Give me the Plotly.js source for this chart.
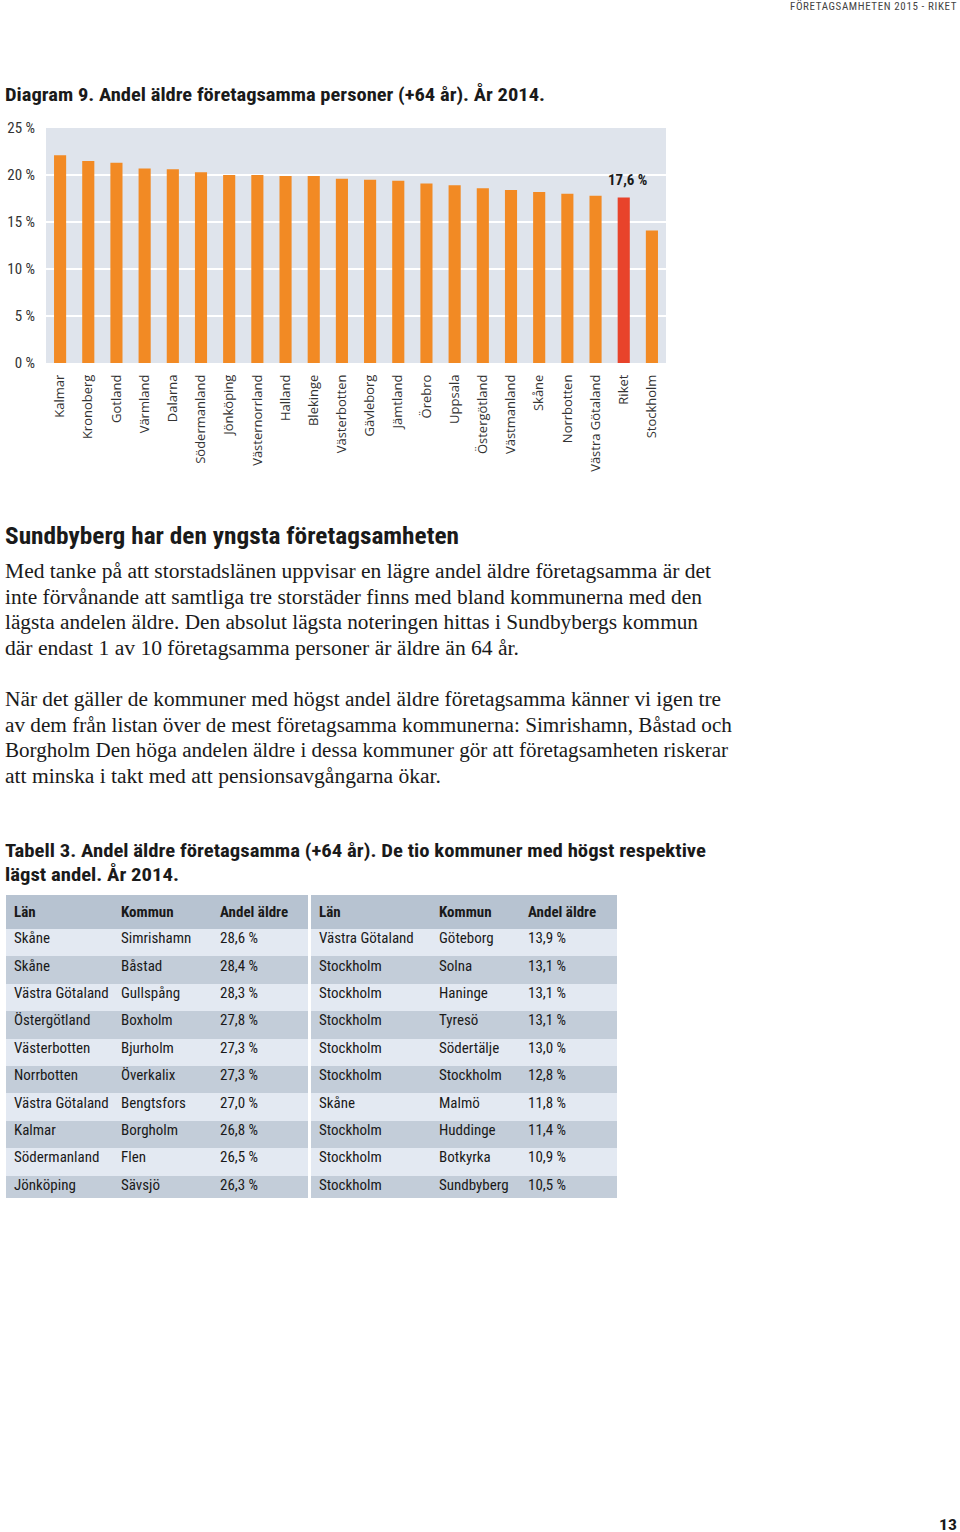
<!DOCTYPE html>
<html>
<head>
<meta charset="utf-8">
<script src="https://cdn.plot.ly/plotly-3.0.1.min.js"></script>
<style>
  html, body { margin:0; padding:0; background:#fff; }
  body { width:960px; height:1532px; position:relative; overflow:hidden; }
  .t { position:absolute; white-space:nowrap; color:#1a1a1a; transform-origin:0 50%; z-index:5; }
  .sans { font-family: 'Liberation Sans Narrow','Roboto Condensed','DejaVu Sans Condensed', Roboto, sans-serif; }
  .serif { font-family: 'Liberation Serif', 'DejaVu Serif', serif; }
  #chart { position:absolute; left:0; top:0; width:960px; height:480px; z-index:1; }
  #table { position:absolute; left:0; top:895px; width:960px; height:303px; z-index:1; }
  #table text.cell-text { translate: 0 -5px; }
</style>
</head>
<body>
<div class="t sans fit" data-w="167" style="left:790px; top:0px; line-height:13px; font-size:10.5px; color:#444; letter-spacing:0.6px;">FÖRETAGSAMHETEN 2015 - RIKET</div>
<div class="t sans fit" data-w="540" style="left:5px; top:83px; line-height:24px; font-size:19px; font-weight:bold;">Diagram 9. Andel äldre företagsamma personer (+64 år). År 2014.</div>
<div id="chart"></div>

<div class="t sans fit" data-w="454" style="left:5px; top:521px; line-height:30px; font-size:23.5px; font-weight:bold;">Sundbyberg har den yngsta företagsamheten</div>

<div class="t serif fit" data-w="706" style="left:5px; top:558px; line-height:26px; font-size:20px;">Med tanke på att storstadslänen uppvisar en lägre andel äldre företagsamma är det</div>
<div class="t serif fit" data-w="697" style="left:5px; top:584px; line-height:26px; font-size:20px;">inte förvånande att samtliga tre storstäder finns med bland kommunerna med den</div>
<div class="t serif fit" data-w="693" style="left:5px; top:609px; line-height:26px; font-size:20px;">lägsta andelen äldre. Den absolut lägsta noteringen hittas i Sundbybergs kommun</div>
<div class="t serif fit" data-w="514" style="left:5px; top:635px; line-height:26px; font-size:20px;">där endast 1 av 10 företagsamma personer är äldre än 64 år.</div>

<div class="t serif fit" data-w="716" style="left:5px; top:686px; line-height:26px; font-size:20px;">När det gäller de kommuner med högst andel äldre företagsamma känner vi igen tre</div>
<div class="t serif fit" data-w="727" style="left:5px; top:712px; line-height:26px; font-size:20px;">av dem från listan över de mest företagsamma kommunerna: Simrishamn, Båstad och</div>
<div class="t serif fit" data-w="723" style="left:5px; top:737px; line-height:26px; font-size:20px;">Borgholm Den höga andelen äldre i dessa kommuner gör att företagsamheten riskerar</div>
<div class="t serif fit" data-w="436" style="left:5px; top:763px; line-height:26px; font-size:20px;">att minska i takt med att pensionsavgångarna ökar.</div>

<div class="t sans fit" data-w="701" style="left:5px; top:839px; line-height:24px; font-size:19px; font-weight:bold;">Tabell 3. Andel äldre företagsamma (+64 år). De tio kommuner med högst respektive</div>
<div class="t sans fit" data-w="174" style="left:5px; top:863px; line-height:24px; font-size:19px; font-weight:bold;">lägst andel. År 2014.</div>

<div id="table"></div>

<div class="t sans fit" data-w="18" style="left:939px; top:1516px; line-height:18px; font-size:15px; font-weight:bold;">13</div>

<script>
// ---------- Chart data ----------
const regions = ['Kalmar','Kronoberg','Gotland','Värmland','Dalarna','Södermanland','Jönköping',
  'Västernorrland','Halland','Blekinge','Västerbotten','Gävleborg','Jämtland','Örebro','Uppsala',
  'Östergötland','Västmanland','Skåne','Norrbotten','Västra Götaland','Riket','Stockholm'];
const shares = [22.1, 21.5, 21.3, 20.7, 20.6, 20.3, 20.0, 20.0, 19.9, 19.9, 19.6, 19.5, 19.4,
  19.1, 18.9, 18.6, 18.4, 18.2, 18.0, 17.8, 17.6, 14.1];
const highlight = 'Riket';
const highlightLabel = '17,6 %';
const yTickVals = [0, 5, 10, 15, 20, 25];
const yTickText = ['0 %', '5 %', '10 %', '15 %', '20 %', '25 %'];

// ---------- Table data ----------
const tableHeader = ['Län', 'Kommun', 'Andel äldre'];
const highLan = ['Skåne','Skåne','Västra Götaland','Östergötland','Västerbotten','Norrbotten','Västra Götaland','Kalmar','Södermanland','Jönköping'];
const highKommun = ['Simrishamn','Båstad','Gullspång','Boxholm','Bjurholm','Överkalix','Bengtsfors','Borgholm','Flen','Sävsjö'];
const highAndel = ['28,6 %','28,4 %','28,3 %','27,8 %','27,3 %','27,3 %','27,0 %','26,8 %','26,5 %','26,3 %'];
const lowLan = ['Västra Götaland','Stockholm','Stockholm','Stockholm','Stockholm','Stockholm','Skåne','Stockholm','Stockholm','Stockholm'];
const lowKommun = ['Göteborg','Solna','Haninge','Tyresö','Södertälje','Stockholm','Malmö','Huddinge','Botkyrka','Sundbyberg'];
const lowAndel = ['13,9 %','13,1 %','13,1 %','13,1 %','13,0 %','12,8 %','11,8 %','11,4 %','10,9 %','10,5 %'];

const condensed = "'Liberation Sans Narrow','Roboto Condensed','DejaVu Sans Condensed', Roboto, sans-serif";

const barColors = regions.map(r => r === highlight ? '#e8432b' : '#f28a24');

Plotly.newPlot('chart', [{
  type: 'bar', x: regions, y: shares,
  marker: { color: barColors },
  hoverinfo: 'none'
}], {
  width: 960, height: 480,
  margin: { l: 46, r: 294, t: 128, b: 117, pad: 0 },
  paper_bgcolor: 'rgba(0,0,0,0)', plot_bgcolor: '#dfe4ec',
  bargap: 0.57, showlegend: false,
  xaxis: {
    tickangle: -90, tickfont: { family: 'Open Sans', size: 13, color: '#333' },
    showgrid: false, zeroline: false, showline: false, ticks: '', ticklabelstandoff: 8, fixedrange: true
  },
  yaxis: {
    range: [0, 25], tickvals: yTickVals, ticktext: yTickText,
    tickfont: { family: condensed, size: 15, color: '#333' },
    showgrid: true, gridcolor: '#ffffff', gridwidth: 2.5, zeroline: false, showline: false,
    ticks: '', ticklabelstandoff: 10, fixedrange: true
  },
  annotations: [{
    x: highlight, y: shares[regions.indexOf(highlight)], text: highlightLabel, showarrow: false,
    yanchor: 'bottom', yshift: 7, xshift: 4,
    font: { family: condensed, size: 15, color: '#1a1a1a', weight: 'bold' }
  }]
}, { staticPlot: true, displayModeBar: false });

// ---------- Table ----------
const nb = s => s.replace(/ /g, '\u00a0');
const rowFills = highLan.map((_, i) => i % 2 === 0 ? '#e3e9f2' : '#c3cdd9');
const headFill = '#b7c3d1';
const cellFont = { family: condensed, size: 15, color: '#1a1a1a' };
const headFont = { family: condensed, size: 15, color: '#1a1a1a', weight: 'bold' };
function tableTrace(cols, x0, x1, widths) {
  return {
    type: 'table',
    domain: { x: [x0 / 960, x1 / 960], y: [0, 1] },
    columnwidth: widths,
    header: {
      values: tableHeader.map(h => '<b>' + nb(h) + '</b>'),
      align: 'left', height: 27.4,
      fill: { color: headFill }, line: { width: 0, color: headFill }, font: headFont
    },
    cells: {
      values: cols.map(c => c.map(nb)), align: 'left', height: 27.4,
      fill: { color: [rowFills, rowFills, rowFills] },
      line: { width: 0, color: [rowFills, rowFills, rowFills] }, font: cellFont
    }
  };
}
Plotly.newPlot('table', [
  tableTrace([highLan, highKommun, highAndel], 6, 308, [107, 99, 96]),
  tableTrace([lowLan, lowKommun, lowAndel], 311, 617, [120, 89, 97])
], {
  width: 960, height: 303, margin: { l: 0, r: 0, t: 0, b: 0 }, paper_bgcolor: 'rgba(0,0,0,0)'
}, { staticPlot: true, displayModeBar: false });

// ---------- Fit text lines to reference widths ----------
document.querySelectorAll('.fit').forEach(el => {
  const target = parseFloat(el.dataset.w);
  const w = el.getBoundingClientRect().width;
  if (w > 0) el.style.transform = 'scaleX(' + (target / w).toFixed(4) + ')';
});
</script>
</body>
</html>
